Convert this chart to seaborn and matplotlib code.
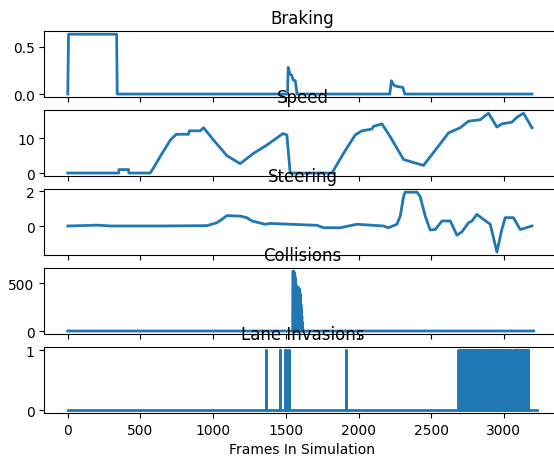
import numpy as np
import pandas as pd
import seaborn as sns
import matplotlib
matplotlib.use("Agg")
import matplotlib.pyplot as plt

# values (frame -> value)
braking_frames = [0, 5, 336, 340, 1512, 1516, 1528, 1540, 1550, 1565, 1577,
                  2215, 2226, 2245, 2265, 2305, 2318, 3193]
braking_values = [0, 0.63, 0.63, 0, 0, 0.28, 0.21, 0.2, 0.15, 0.14, 0,
                  0, 0.14, 0.09, 0.08, 0.07, 0, 0]

speed_frames = [0, 350, 352, 418, 420, 567, 590, 636, 705, 746, 831, 835, 911,
                934, 1003, 1095, 1186, 1278, 1370, 1450, 1480, 1507, 1530,
                1817, 1897, 1977, 2023, 2092, 2103, 2161, 2218, 2310, 2390,
                2447, 2539, 2619, 2700, 2757, 2837, 2894, 2952, 2986, 3055,
                3089, 3135, 3193]
speed_values = [0, 0, 1, 1, 0, 0, 1.5, 4.8, 9.5, 11.2, 11.2, 12.2, 12.2,
                13.1, 9.5, 5.0, 2.7, 5.7, 8.1, 10.5, 11.4, 11, 0,
                0, 5.7, 11, 12.2, 12.7, 13.5, 14.2, 10.5, 3.9, 2.9,
                2.2, 7.2, 11.6, 13.1, 15, 15.4, 17.3, 13.3, 14.2, 14.7,
                16.1, 17.3, 13.1]

steering_frames = [0, 200, 300, 600, 957, 1026, 1060, 1095, 1186, 1232, 1267,
                   1358, 1393, 1530, 1714, 1759, 1874, 1989, 2172, 2206, 2264,
                   2287, 2310, 2321, 2402, 2424, 2459, 2493, 2528, 2574, 2631,
                   2677, 2711, 2757, 2780, 2814, 2860, 2906, 2952, 2986, 3009,
                   3066, 3112, 3135, 3193]
steering_values = [0, 0.05, 0, 0, 0.02, 0.19, 0.38, 0.6, 0.57, 0.48, 0.29,
                   0.1, 0.15, 0.1, 0.04, -0.1, -0.1, 0.1, 0, -0.1, 0.1,
                   0.57, 1.71, 1.95, 1.95, 1.7, 0.57, -0.23, -0.2, 0.29, 0.29,
                   -0.53, -0.34, 0.19, 0.29, 0.67, 0.38, 0.1, -1.5, -0.2, 0.48,
                   0.48, -0.2, -0.15, 0]

collision_frames = [0, 1549, 1550, 1551, 1552, 1553, 1554, 1555, 1556, 1557,
                    1558, 1559, 1560, 1561, 1562, 1563, 1564, 1565, 1566, 1567,
                    1568, 1570, 1571, 1573, 1574, 1576, 1577, 1579, 1580, 1582,
                    1583, 1585, 1586, 1588, 1589, 1591, 1592, 1594, 1595, 1597,
                    1598, 1600, 1601, 1603, 1604, 1606, 1607, 1609, 1610, 1612,
                    1613, 1617, 3205]
collision_values = [0, 0, 625, 0, 622, 0, 620, 0, 615, 0,
                    610, 0, 600, 0, 580, 0, 550, 0, 500, 0,
                    480, 0, 475, 0, 470, 0, 465, 0, 460, 0,
                    455, 0, 450, 0, 445, 0, 440, 0, 420, 0,
                    390, 0, 340, 0, 280, 0, 220, 0, 160, 0,
                    90, 0, 0]

# frames where a lane invasion was flagged
lane_events = [1362, 1458, 1493, 1500, 1519, 1912,
               2685, 2695, 2705, 2715, 2725, 2735, 2745, 2755, 2765, 2775,
               2785, 2795, 2802, 2820, 2830, 2840, 2850, 2860, 2870, 2879,
               2896, 2906, 2916, 2926, 2935, 2953, 2963, 2973, 2983, 2993,
               3003, 3013, 3023, 3033, 3043, 3048, 3064, 3071, 3087, 3094,
               3110, 3117, 3133, 3140, 3156, 3164]
lane_end = 3229

titles = ["Braking", "Speed", "Steering", "Collisions", "Lane Invasions"]

# turn lane events into a 0/1 pulse trace
lane_x = [0]
lane_y = [0]
for p in lane_events:
    lane_x += [p, p, p + 3, p + 3]
    lane_y += [0, 1, 1, 0]
lane_x.append(lane_end)
lane_y.append(0)

series = [
    (braking_frames, braking_values),
    (speed_frames, speed_values),
    (steering_frames, steering_values),
    (collision_frames, collision_values),
    (lane_x, lane_y),
]

fig, axes = plt.subplots(5, 1, sharex=True, figsize=(5.54, 4.6), dpi=100)
fig.subplots_adjust(left=0.08, right=1.012, top=0.93, bottom=0.1, hspace=0.2)

for ax, title, (fx, fy) in zip(axes, titles, series):
    df = pd.DataFrame({"frame": fx, "value": fy})
    sns.lineplot(data=df, x="frame", y="value", ax=ax,
                 estimator=None, sort=False, color="#1f77b4", linewidth=2)
    ax.set_title(title)
    ax.set_xlabel("")
    ax.set_ylabel("")

axes[-1].set_xlabel("Frames In Simulation")

fig.savefig("out.png", dpi=100)
